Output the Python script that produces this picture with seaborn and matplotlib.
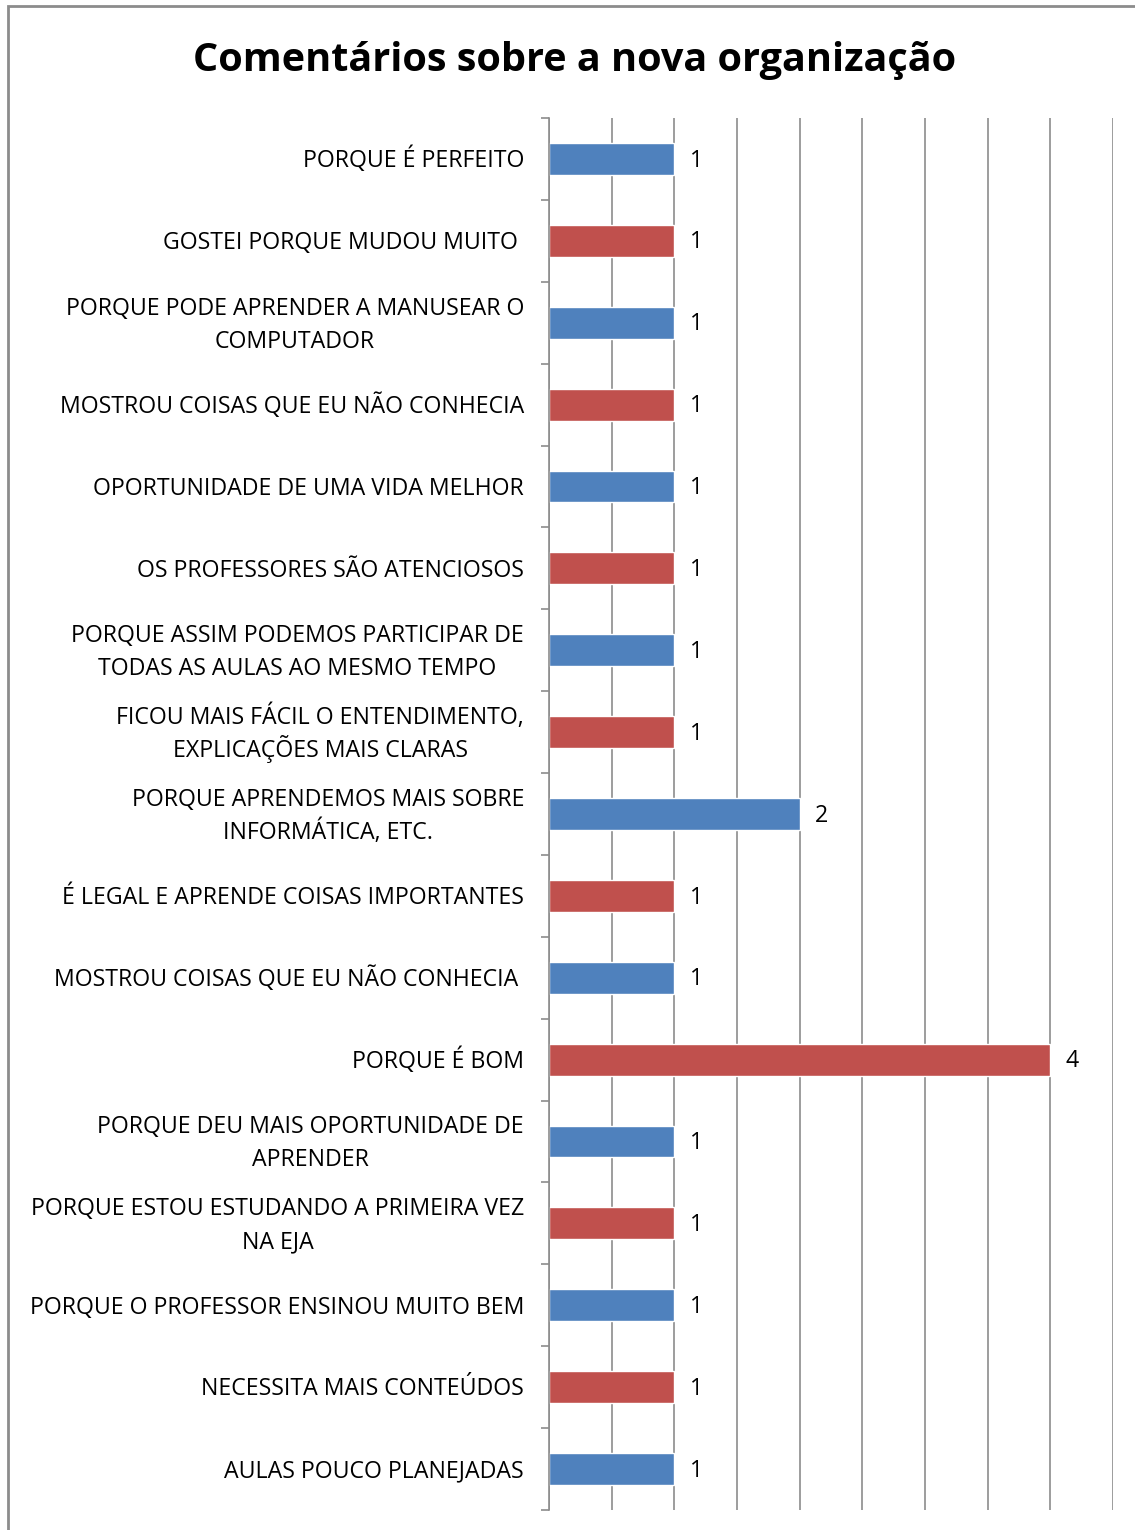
import pandas as pd
import seaborn as sns
import matplotlib.pyplot as plt
from matplotlib.patches import Rectangle
from matplotlib.transforms import offset_copy

# data (top to bottom)
categories = [
    "PORQUE É PERFEITO",
    "GOSTEI PORQUE MUDOU MUITO ",
    "PORQUE PODE APRENDER A MANUSEAR O\nCOMPUTADOR",
    "MOSTROU COISAS QUE EU NÃO CONHECIA",
    "OPORTUNIDADE DE UMA VIDA MELHOR",
    "OS PROFESSORES SÃO ATENCIOSOS",
    "PORQUE ASSIM PODEMOS PARTICIPAR DE\nTODAS AS AULAS AO MESMO TEMPO",
    "FICOU MAIS FÁCIL O ENTENDIMENTO,\nEXPLICAÇÕES MAIS CLARAS",
    "PORQUE APRENDEMOS MAIS SOBRE\nINFORMÁTICA, ETC.",
    "É LEGAL E APRENDE COISAS IMPORTANTES",
    "MOSTROU COISAS QUE EU NÃO CONHECIA ",
    "PORQUE É BOM",
    "PORQUE DEU MAIS OPORTUNIDADE DE\nAPRENDER",
    "PORQUE ESTOU ESTUDANDO A PRIMEIRA VEZ\nNA EJA",
    "PORQUE O PROFESSOR ENSINOU MUITO BEM",
    "NECESSITA MAIS CONTEÚDOS",
    "AULAS POUCO PLANEJADAS",
]
values = [1, 1, 1, 1, 1, 1, 1, 1, 2, 1, 1, 4, 1, 1, 1, 1, 1]
bar_colors = ["#4F81BD", "#C0504D"]

df = pd.DataFrame({"categoria": categories, "valor": values})
palette = [bar_colors[i % 2] for i in range(len(categories))]

sns.set_style("white")
plt.rcParams["font.family"] = ["Open Sans", "DejaVu Sans"]
plt.rcParams["text.color"] = "black"

fs = 16.7
fig = plt.figure(figsize=(11.35, 15.3), dpi=100)
ax = fig.add_axes([549 / 1135, 1 - 1510 / 1530, (1113 - 549) / 1135, (1510 - 118) / 1530])

sns.barplot(data=df, y="categoria", x="valor", hue="categoria", palette=palette,
            legend=False, width=0.39, saturation=1, ax=ax, orient="h")

ax.set_xlim(0, 4.5)
ax.set_ylim(len(categories) - 0.5, -0.5)
ax.set_xticks([i * 0.5 for i in range(10)])
ax.set_xticklabels([])
ax.tick_params(axis="x", length=0)
ax.grid(axis="x", color="#8c8c8c", linewidth=1.2)
ax.set_axisbelow(True)

ax.set_yticks([i - 0.5 for i in range(len(categories) + 1)], minor=True)
ax.set_yticks(range(len(categories)))
ax.set_yticklabels([])
ax.tick_params(axis="y", which="major", length=0)
ax.tick_params(axis="y", which="minor", length=6, width=1.2, color="#8c8c8c", left=True)

for side in ["top", "right", "bottom"]:
    ax.spines[side].set_visible(False)
ax.spines["left"].set_color("#8c8c8c")
ax.spines["left"].set_linewidth(1.2)
ax.set_xlabel("")
ax.set_ylabel("")

# category labels: wrapped lines centred on each other, block right-aligned,
# even line spacing like the Excel original (33 px per line)
renderer = fig.canvas.get_renderer()
px = 1392 / len(categories)          # pixels per category
line_step = 33 / px
base_shift = 8.3 / px
for i, cat in enumerate(categories):
    lines = cat.split("\n")
    texts = [ax.text(0, 0, ln, fontsize=fs) for ln in lines]
    widths = [t.get_window_extent(renderer).width for t in texts]
    block = max(widths)
    trans = offset_copy(ax.get_yaxis_transform(), fig=fig,
                        x=-(25 + block / 2) * 72 / 100, y=0, units="points")
    n = len(lines)
    for k, t in enumerate(texts):
        y = i + (k - (n - 1) / 2) * line_step + base_shift
        t.set_position((0, y))
        t.set_transform(trans)
        t.set_ha("center")
        t.set_va("baseline")
        t.set_clip_on(False)

for i, v in enumerate(values):
    ax.text(v + 0.125, i + 0.02, str(v), va="center", ha="left", fontsize=fs)

fig.text(0.5066, 1 - 60 / 1530, "Comentários sobre a nova organização", ha="center",
         va="center", fontsize=28.5, fontweight="bold")

fig.patches.append(Rectangle((8 / 1135, -0.01), 1.1, 1 - 6 / 1530 + 0.01,
                             transform=fig.transFigure, fill=False,
                             edgecolor="#8c8c8c", linewidth=2))

fig.savefig("out.png", dpi=100)
